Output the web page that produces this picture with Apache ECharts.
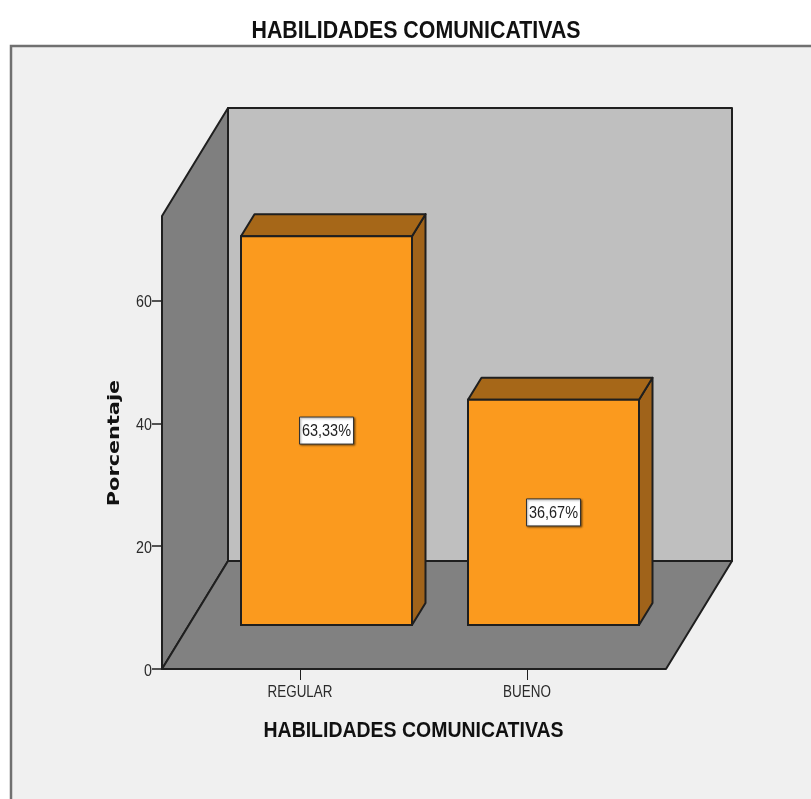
<!DOCTYPE html>
<html>
<head>
<meta charset="utf-8">
<style>html,body{margin:0;padding:0;background:#fff}#c{width:811px;height:799px}</style>
<script src="https://cdn.jsdelivr.net/npm/echarts@6/dist/echarts.min.js"></script>
</head>
<body>
<div id="c"></div>
<script>
const categories = ['REGULAR', 'BUENO'];
const percentages = [63.33, 36.67];
const yTicks = [0, 20, 40, 60];
const titleText = 'HABILIDADES COMUNICATIVAS';
const xName = 'HABILIDADES COMUNICATIVAS';
const yName = 'Porcentaje';
const yMax = 73.78;

const STROKE = '#1f1f1f';
const SANS = '"Liberation Sans",Arial,sans-serif';
const AXIS_SHIFT = 24.5, DEPTH_X = 66, DEPTH_Y = 108;
const BAR_W = 171, BAR_DX = 13.5, BAR_DY = 22, BAR_LIFT = 44, BAR_SHIFT = 26.5;

function poly(points, fill) {
  return { type: 'polygon', shape: { points }, style: { fill, stroke: STROKE, lineWidth: 2, lineJoin: 'round' } };
}
function squeezed(text, x, y, font, scaleX, fill, align) {
  return { type: 'text', x, y, scaleX, style: { text, x: 0, y: 0, align: align || 'center', verticalAlign: 'middle', fill, font } };
}
function renderRoom(params, api) {
  const cs = params.coordSys;
  const x0 = cs.x - AXIS_SHIFT, x1 = x0 + 504;
  const yTop = cs.y, yBase = cs.y + cs.height;
  return { type: 'group', children: [
    poly([[x0 + DEPTH_X, yTop - DEPTH_Y], [x1 + DEPTH_X, yTop - DEPTH_Y], [x1 + DEPTH_X, yBase - DEPTH_Y], [x0 + DEPTH_X, yBase - DEPTH_Y]], '#bfbfbf'),
    poly([[x0, yTop], [x0 + DEPTH_X, yTop - DEPTH_Y], [x0 + DEPTH_X, yBase - DEPTH_Y], [x0, yBase]], '#7f7f7f'),
    poly([[x0, yBase], [x0 + DEPTH_X, yBase - DEPTH_Y], [x1 + DEPTH_X, yBase - DEPTH_Y], [x1, yBase]], '#818181')
  ]};
}
function renderYLabel(params, api) {
  const v = api.value(1);
  const p = api.coord([0, v]);
  return squeezed(String(v), params.coordSys.x - AXIS_SHIFT - 10, p[1] + 2, '17px ' + SANS, 0.84, '#2a2a2a', 'right');
}
function renderXLabel(params, api) {
  const i = api.value(0);
  const p = api.coord([i, 0]);
  return squeezed(categories[i], p[0], p[1] + 24, '16px ' + SANS, 0.84, '#2a2a2a');
}
function renderBar(params, api) {
  const c = api.coord([api.value(0), api.value(1)]);
  const base = api.coord([api.value(0), 0]);
  const xc = c[0] + BAR_SHIFT;
  const l = xc - BAR_W / 2, r = xc + BAR_W / 2;
  const t = c[1] - BAR_LIFT, b = base[1] - BAR_LIFT;
  const label = api.value(1).toFixed(2).replace('.', ',') + '%';
  return { type: 'group', children: [
    poly([[r, t], [r + BAR_DX, t - BAR_DY], [r + BAR_DX, b - BAR_DY], [r, b]], '#a0631a'),
    poly([[l, t], [l + BAR_DX, t - BAR_DY], [r + BAR_DX, t - BAR_DY], [r, t]], '#a66718'),
    { type: 'rect', shape: { x: l, y: t, width: BAR_W, height: b - t }, style: { fill: '#fb9a1e', stroke: STROKE, lineWidth: 2 } },
    { type: 'rect', shape: { x: xc - 27, y: (t + b) / 2 - 13.5, width: 54, height: 27 }, style: { fill: '#fff', stroke: '#333', lineWidth: 1, shadowColor: 'rgba(0,0,0,0.45)', shadowBlur: 2, shadowOffsetX: 1, shadowOffsetY: 1 } },
    squeezed(label, xc, (t + b) / 2 + 0.5, '17px ' + SANS, 0.85, '#222')
  ]};
}

const chart = echarts.init(document.getElementById('c'), null, { renderer: 'canvas' });
chart.setOption({
  animation: false,
  backgroundColor: '#ffffff',
  graphic: [
    { type: 'rect', z: -10, shape: { x: 11, y: 46, width: 900, height: 900 }, style: { fill: '#f0f0f0', stroke: '#707070', lineWidth: 2.5 } },
    { type: 'text', x: 416, y: 31, scaleX: 0.89, style: { text: titleText, align: 'center', verticalAlign: 'middle', fill: '#111', font: 'bold 24px ' + SANS } },
    { type: 'text', x: 413.5, y: 731, scaleX: 0.885, style: { text: xName, align: 'center', verticalAlign: 'middle', fill: '#111', font: 'bold 22px ' + SANS } },
    { type: 'text', x: 115, y: 443, rotation: Math.PI / 2, scaleX: 1.3, style: { text: yName, align: 'center', verticalAlign: 'middle', fill: '#111', font: 'bold 16px "DejaVu Sans",sans-serif' } }
  ],
  grid: { left: 186.5, top: 216, width: 454, height: 453, containLabel: false },
  xAxis: {
    type: 'category', data: categories,
    axisLine: { show: false },
    axisTick: { show: true, alignWithLabel: true, length: 11, lineStyle: { color: STROKE, width: 1 } },
    axisLabel: { show: false },
    splitLine: { show: false }
  },
  yAxis: {
    type: 'value', min: 0, max: yMax, offset: AXIS_SHIFT,
    axisLine: { show: false },
    axisTick: { show: true, length: 10, customValues: yTicks, lineStyle: { color: STROKE, width: 1.5 } },
    axisLabel: { show: false },
    splitLine: { show: false }
  },
  series: [
    { type: 'custom', coordinateSystem: 'cartesian2d', silent: true, z: 1, renderItem: renderRoom, data: [[0, 0]], clip: false, encode: { x: 0, y: 1 } },
    { type: 'custom', coordinateSystem: 'cartesian2d', z: 2, renderItem: renderBar, clip: false, encode: { x: 0, y: 1 },
      data: percentages.map((v, i) => [i, v]) },
    { type: 'custom', coordinateSystem: 'cartesian2d', silent: true, z: 3, renderItem: renderYLabel, clip: false, encode: { x: 0, y: 1 },
      data: yTicks.map(v => [0, v]) },
    { type: 'custom', coordinateSystem: 'cartesian2d', silent: true, z: 3, renderItem: renderXLabel, clip: false, encode: { x: 0, y: 1 },
      data: categories.map((c, i) => [i, 0]) }
  ]
});
</script>
</body>
</html>
